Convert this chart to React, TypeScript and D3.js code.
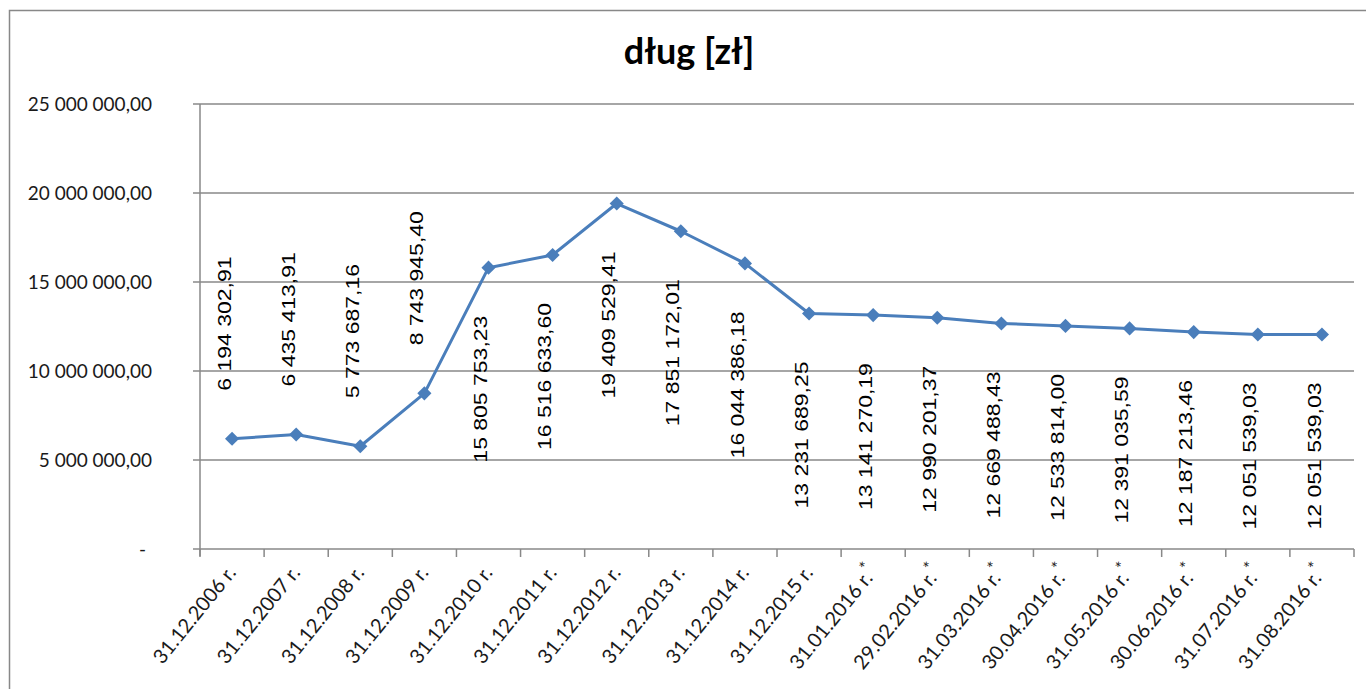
import React from "react";
import * as d3 from "d3";

const categories = [
  "31.12.2006 r.", "31.12.2007 r.", "31.12.2008 r.", "31.12.2009 r.", "31.12.2010 r.",
  "31.12.2011 r.", "31.12.2012 r.", "31.12.2013 r.", "31.12.2014 r.", "31.12.2015 r.",
  "31.01.2016 r.", "29.02.2016 r.", "31.03.2016 r.", "30.04.2016 r.", "31.05.2016 r.",
  "30.06.2016 r.", "31.07.2016 r.", "31.08.2016 r.",
];
const provisional = [
  false, false, false, false, false, false, false, false, false, false,
  true, true, true, true, true, true, true, true,
];
const debt = [
  6194302.91, 6435413.91, 5773687.16, 8743945.4, 15805753.23, 16516633.6,
  19409529.41, 17851172.01, 16044386.18, 13231689.25, 13141270.19, 12990201.37,
  12669488.43, 12533814.0, 12391035.59, 12187213.46, 12051539.03, 12051539.03,
];
const yTicks = [0, 5000000, 10000000, 15000000, 20000000, 25000000];
const title = "dług [zł]";

const W = 1366;
const H = 689;
const plot = { left: 200, right: 1354, top: 104, bottom: 549 };
const lineColor = "#4A7EBB";
const gridColor = "#888888";

const pl = d3.formatLocale({ decimal: ",", thousands: " ", grouping: [3], currency: ["", ""] });
const fmt = pl.format(",.2f");

export default function App() {
  const x = d3.scaleBand<string>().domain(categories).range([plot.left, plot.right]).padding(0);
  const y = d3.scaleLinear().domain([0, 25000000]).range([plot.bottom, plot.top]);
  const cx = (i: number) => (x(categories[i]) as number) + x.bandwidth() / 2;

  const line = d3
    .line<number>()
    .x((_, i) => cx(i))
    .y((d) => y(d));
  const marker = d3.symbol().type(d3.symbolSquare).size(100)();

  const boundaries = categories.map((c) => x(c) as number).concat([plot.right]);

  return (
    <svg
      width={W}
      height={H}
      style={{ position: "absolute", left: 0, top: 0, background: "#fff" }}
    >
      <rect x={0} y={0} width={W} height={H} fill="#fff" />
      <rect x={9.5} y={10.5} width={W + 40} height={H + 40} fill="none" stroke={gridColor} strokeWidth={1.5} />
      <text
        x={689}
        y={64}
        textAnchor="middle"
        fontFamily="Lato"
        fontWeight="bold"
        fontSize={36}
        fill="#000"
      >
        {title}
      </text>

      {/* grid lines + y ticks */}
      {yTicks.map((t) => (
        <g key={t}>
          <line x1={plot.left - 7} x2={plot.right} y1={y(t)} y2={y(t)} stroke={gridColor} strokeWidth={1.5} />
          <text
            x={t === 0 ? 146 : 152}
            y={y(t)}
            dy="0.35em"
            textAnchor="end"
            fontFamily="Lato"
            fontSize={19}
            fill="#1a1a1a"
          >
            {t === 0 ? "-" : fmt(t)}
          </text>
        </g>
      ))}
      <line x1={plot.left} x2={plot.left} y1={plot.top} y2={plot.bottom + 7} stroke={gridColor} strokeWidth={1.5} />
      {boundaries.map((b, i) => (
        <line key={i} x1={b} x2={b} y1={plot.bottom} y2={plot.bottom + 8} stroke={gridColor} strokeWidth={1.5} />
      ))}

      {/* x labels */}
      {categories.map((c, i) => (
        <text
          key={c + i}
          transform={`translate(${cx(i) + 5},${plot.bottom + 24}) rotate(-51)`}
          textAnchor="end"
          fontFamily="Lato"
          fontSize={20}
          fill="#1a1a1a"
        >
          {c}
          {provisional[i] ? (
            <tspan dy={-8} fontSize={17}>*</tspan>
          ) : null}
        </text>
      ))}

      {/* series */}
      <path d={line(debt) || ""} fill="none" stroke={lineColor} strokeWidth={3} strokeLinejoin="round" />
      {debt.map((d, i) => (
        <path key={i} d={marker || ""} transform={`translate(${cx(i)},${y(d)}) rotate(45)`} fill={lineColor} />
      ))}

      {/* data labels */}
      {debt.map((d, i) => {
        const above = i < 4;
        const ly = above ? y(d) - 48 : y(d) + 48;
        return (
          <text
            key={"l" + i}
            transform={`translate(${cx(i) - 8},${ly}) scale(0.8,1) rotate(-90)`}
            textAnchor={above ? "start" : "end"}
            dominantBaseline="central"
            fontFamily="Liberation Sans"
            fontSize={23}
            fill="#000"
          >
            {fmt(d)}
          </text>
        );
      })}
    </svg>
  );
}
